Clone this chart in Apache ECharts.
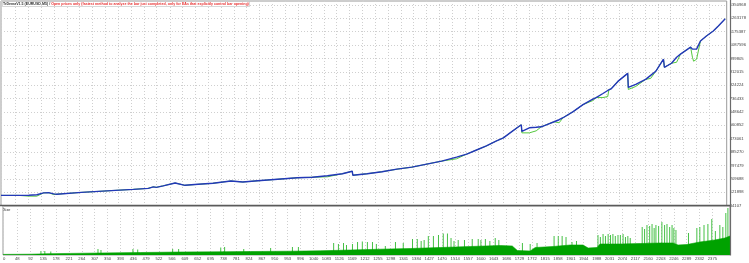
<!DOCTYPE html>
<html><head><meta charset="utf-8">
<script src="https://cdn.jsdelivr.net/npm/echarts@6/dist/echarts.min.js"></script>
<style>html,body{margin:0;padding:0;background:#fff}#c{width:749px;height:263px}</style>
</head><body><div id="c"></div>
<script>
// ---- data ----
const titleName = 'TrDemaV1.5 (EURUSD,M5) / ';
const titleMode = 'Open prices only (fastest method to analyze the bar just completed, only for EAs that explicitly control bar opening)';
const subTitle = 'Size';

const trades = [0,60,93,120,143,160,177,187,270,327,384,444,494,511,521,544,584,585,617,661,711,771,811,861,928,994,1044,1095,1145,1178,1180,1228,1278,1328,1378,1428,1478,1528,1562,1595,1628,1662,1685,1712,1745,1747,1772,1795,1812,1829,1855,1872,1885,1919,1952,1985,1996,2019,2035,2039,2046,2069,2102,2104,2129,2162,2179,2196,2222,2225,2249,2266,2279,2313,2319,2323,2333,2346,2366,2389,2406,2429];
const balance = [100360,100360,101680,104990,116920,118240,110290,108310,120230,126860,133480,140110,146730,156670,153360,163290,181840,171240,166610,173230,179860,195090,188470,196420,206360,216290,219610,229540,242790,259360,232860,242790,256040,272610,285860,305730,325610,352110,371980,398480,424980,458110,477980,517730,564110,521040,544230,547540,550860,564110,583980,597230,610480,650230,696610,733040,742980,769480,789360,795980,799290,848980,901980,809230,829110,862230,888730,915230,994730,941730,968230,1007980,1027860,1074230,1060980,1060980,1060980,1113980,1147110,1180230,1213360,1259730];
const equity = [100360,100360,95730,95410,116920,118240,105670,108310,120230,126860,133480,140110,146730,156670,153360,163290,181840,171240,166610,173230,179860,195090,188470,196420,206360,216290,219610,222610,242790,259360,232860,242790,256040,272610,285860,305730,325610,340860,371980,398480,424980,458110,477980,517730,564110,511110,511110,524360,550860,564110,583980,577360,610480,650230,696610,723110,742980,742980,749610,795980,799290,848980,901980,795980,815860,862230,868860,915230,994730,941730,968230,974860,1027860,1074230,1007980,981480,994730,1113980,1147110,1180230,1213360,1259730];

const baseTrades = [0,94,144,227,328,461,595,729,829,963,1063,1163,1264,1364,1464,1565,1665,1705,1722,1765,1782,1842,1899,1942,1959,1989,1999,2066,2133,2200,2243,2260,2290,2333,2383,2417,2434];
const baseLots = [0.06,0.08,0.12,0.16,0.2,0.25,0.3,0.32,0.35,0.38,0.42,0.5,0.58,0.65,0.75,0.85,0.95,0.9,0.45,0.4,0.75,0.85,1.0,1.0,0.7,0.75,1.1,1.1,1.15,1.2,1.2,1.0,1.05,1.3,1.5,1.7,1.9];

const spikeTrades = [127,140,160,318,328,435,451,568,588,729,742,806,896,969,989,1107,1123,1140,1150,1170,1187,1203,1220,1237,1250,1280,1314,1340,1371,1387,1400,1410,1424,1441,1458,1474,1488,1500,1510,1524,1545,1571,1591,1600,1615,1630,1648,1660,1739,1765,1788,1845,1859,1872,1885,1905,1920,1992,2000,2009,2017,2026,2034,2042,2050,2059,2067,2076,2084,2092,2100,2140,2148,2156,2165,2173,2180,2186,2195,2206,2215,2223,2232,2240,2246,2253,2295,2323,2333,2347,2360,2373,2385,2400,2410,2420,2427];
const spikeLots = [0.4,0.4,0.35,0.6,0.5,0.6,0.55,0.6,0.6,0.75,0.8,0.6,0.7,0.8,0.8,1.2,1.1,1.2,1.0,1.1,1.3,1.35,1.3,1.3,1.1,0.9,1.3,1.2,1.6,1.6,1.4,1.5,1.9,1.9,2.0,2.15,2.15,1.7,1.4,1.5,1.5,1.6,1.6,1.5,1.6,1.4,1.7,1.5,1.2,1.1,1.2,1.9,1.9,1.9,1.8,1.3,1.4,2.0,1.8,2.1,1.9,2.1,2.0,2.1,1.9,2.0,2.0,2.1,1.8,1.9,1.7,2.8,2.6,3.0,2.9,3.1,2.7,3.0,2.9,3.3,3.0,3.1,2.8,3.0,2.7,2.5,2.2,2.7,2.8,3.0,3.1,3.6,2.4,3.0,2.8,4.2,4.7];

const xTickLabels = ['0','48','92','135','178','221','264','307','350','393','436','479','522','566','609','652','695','738','781','824','867','910','953','996','1040','1083','1126','1169','1212','1255','1298','1341','1384','1427','1470','1514','1557','1600','1643','1686','1729','1772','1815','1858','1901','1944','1988','2031','2074','2117','2160','2203','2246','2289','2332','2375'];
const yTickLabels = ['34107','121898','209688','297479','385270','473061','560852','648642','736433','824224','912015','999805','1087596','1175387','1263178','1350968'];

// ---- chart ----
const xTicks = xTickLabels.map(Number);
const yTicks = yTickLabels.map(Number);
const pairs = (xs, ys) => xs.map((x, i) => [x, ys[i]]);
const FONT = 'Liberation Sans, Arial, sans-serif';
const gridDot = { show: true, lineStyle: { color: '#cfcfcf', type: [1, 2], width: 1 } };

const chart = echarts.init(document.getElementById('c'), null, { renderer: 'canvas' });
chart.setOption({
  animation: false,
  backgroundColor: '#ffffff',
  title: {
    text: '{a|' + titleName + '}{b|' + titleMode + '}',
    left: 2, top: 1, padding: [1, 1],
    backgroundColor: '#ffffff', borderColor: '#b0b0b0', borderWidth: 0.5,
    textStyle: { rich: {
      a: { fontSize: 3.6, color: '#333333', fontFamily: FONT },
      b: { fontSize: 3.6, color: '#e83030', fontFamily: FONT }
    } }
  },
  graphic: [
    { type: 'text', left: 3, top: 207.5, style: { text: subTitle, fontSize: 3.8, fill: '#333', fontFamily: FONT } },
    { type: 'line', shape: { x1: 0, y1: 205.5, x2: 731, y2: 205.5 }, style: { stroke: '#5a5a5a', lineWidth: 1.6 }, z: 100 },
    { type: 'line', shape: { x1: 730.5, y1: 0, x2: 730.5, y2: 255.5 }, style: { stroke: '#6a6a6a', lineWidth: 1.2 }, z: 100 }
  ],
  grid: [
    { left: 1, right: 19, top: 1, height: 204.5, show: true, borderColor: '#9a9a9a', borderWidth: 1 },
    { left: 1, right: 19, top: 206, height: 49, show: true, borderColor: '#9a9a9a', borderWidth: 1 }
  ],
  xAxis: [
    { gridIndex: 0, type: 'value', min: 0, max: 2434,
      axisLine: { show: false }, axisTick: { show: false, customValues: xTicks },
      axisLabel: { show: false, customValues: xTicks }, splitLine: gridDot },
    { gridIndex: 1, type: 'value', min: 0, max: 2434,
      axisLine: { show: false }, axisTick: { show: false, customValues: xTicks },
      axisLabel: { show: true, customValues: xTicks, formatter: v => xTickLabels[xTicks.indexOf(v)] ?? '',
        fontSize: 4.2, color: '#444', margin: 1.5, fontFamily: FONT, alignMinLabel: 'left', hideOverlap: false },
      splitLine: gridDot }
  ],
  yAxis: [
    { gridIndex: 0, type: 'value', position: 'right', min: 34107, max: 1377000,
      axisLine: { show: false }, axisTick: { show: false, customValues: yTicks },
      axisLabel: { customValues: yTicks, formatter: v => yTickLabels[yTicks.indexOf(v)] ?? '',
        fontSize: 4.2, color: '#444', margin: 3, fontFamily: FONT, showMinLabel: true, showMaxLabel: true },
      splitLine: gridDot },
    { gridIndex: 1, type: 'value', min: 0, max: 4.9, show: false, splitLine: { show: false } }
  ],
  series: [
    { type: 'line', name: 'Equity', xAxisIndex: 0, yAxisIndex: 0, data: pairs(trades, equity),
      showSymbol: false, lineStyle: { color: '#55c83e', width: 1 }, z: 2 },
    { type: 'line', name: 'Balance', xAxisIndex: 0, yAxisIndex: 0, data: pairs(trades, balance),
      showSymbol: false, lineStyle: { color: '#2338b8', width: 1.4 }, z: 3 },
    { type: 'line', name: 'SizeBase', xAxisIndex: 1, yAxisIndex: 1, data: pairs(baseTrades, baseLots),
      showSymbol: false, lineStyle: { color: '#00a200', width: 0.6 },
      areaStyle: { color: '#00a200', opacity: 1 }, z: 2 },
    { type: 'bar', name: 'SizeSpikes', xAxisIndex: 1, yAxisIndex: 1, data: pairs(spikeTrades, spikeLots),
      barWidth: 1, itemStyle: { color: '#45c045' }, z: 1 }
  ]
});
</script></body></html>
